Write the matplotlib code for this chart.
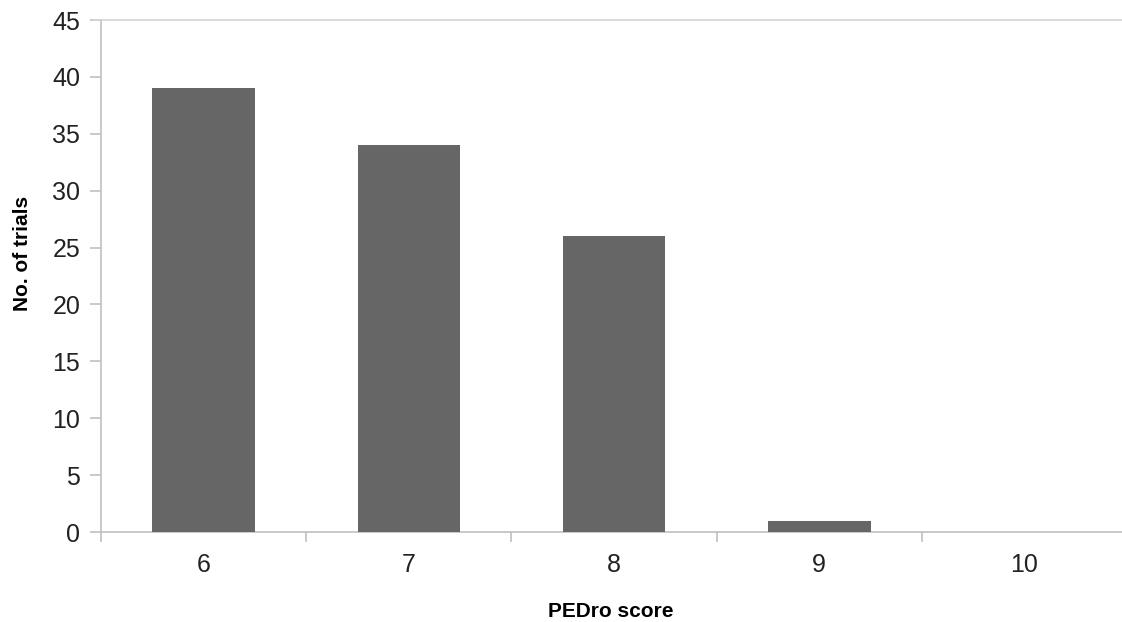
import matplotlib.pyplot as plt

scores = ["6", "7", "8", "9", "10"]
trials = [39, 34, 26, 1, 0]

plt.rcParams['font.family'] = ['Liberation Sans', 'DejaVu Sans']

fig = plt.figure(figsize=(11.22, 6.22), dpi=100)
ax = fig.add_axes([101 / 1122, 1 - 532 / 622, 1026 / 1122, 512 / 622])

x = range(len(scores))
ax.bar(x, trials, width=0.5, color='#666666', zorder=3)

ax.set_xlim(-0.5, len(scores) - 0.5)
ax.set_ylim(0, 45)
ax.set_yticks(range(0, 46, 5))
ax.set_xticks(x)
ax.set_xticklabels(scores)
ax.set_xticks([i + 0.5 for i in range(-1, len(scores))], minor=True)

grey = '#c0c0c0'
for side in ['left', 'bottom', 'top']:
    ax.spines[side].set_color(grey)
    ax.spines[side].set_linewidth(1.2)
ax.spines['right'].set_visible(False)
ax.spines['top'].set_color('#d4d4d4')

ax.tick_params(axis='y', direction='out', length=8, color=grey, width=1.2,
               labelsize=18, labelcolor='#222222', pad=7)
ax.tick_params(axis='x', which='major', length=0, labelsize=18,
               labelcolor='#222222', pad=15)
ax.tick_params(axis='x', which='minor', direction='out', length=7,
               color=grey, width=1.2)

fig.text(611 / 1122, 1 - 617 / 622, "PEDro score", fontsize=15,
         fontweight='bold', ha='center', va='baseline')
fig.text(23 / 1122, 1 - 253 / 622, "No. of trials", fontsize=15,
         fontweight='bold', ha='center', va='center', rotation=90)

# extend the top line left like the tick marks
ax.plot([-0.5 - 8 / 205, -0.5], [45, 45], color='#d4d4d4', lw=1.2,
        clip_on=False)

fig.savefig("out.png", dpi=100)
